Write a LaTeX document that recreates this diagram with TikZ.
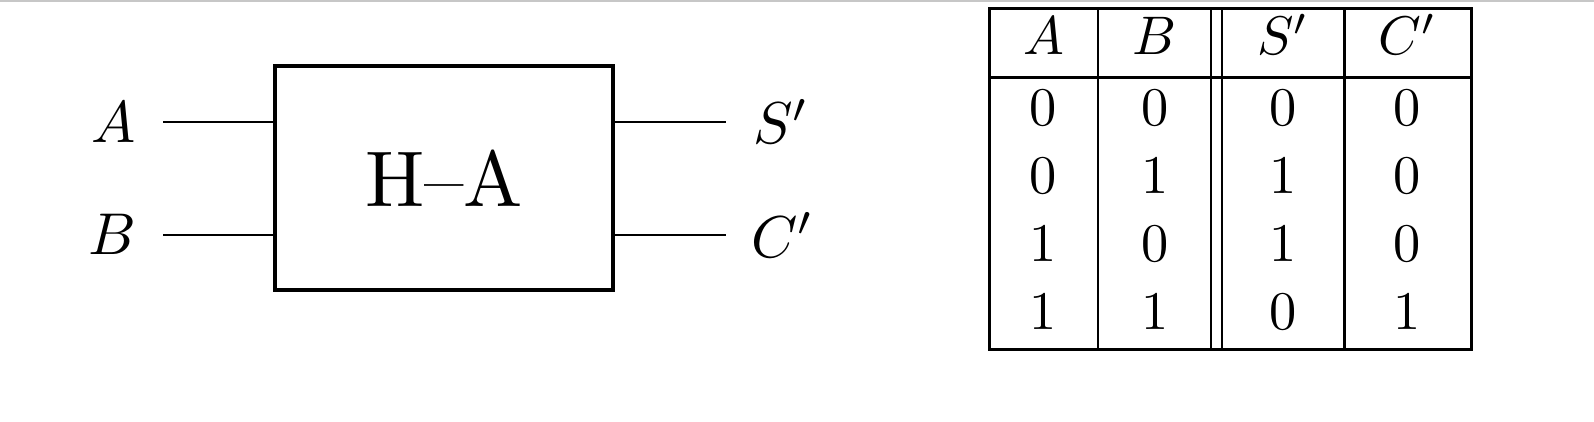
\documentclass[tikz,border=0pt]{standalone}
\usepackage{graphicx}
\newcommand{\lblsc}[1]{\scalebox{2.95}{#1}}
\newcommand{\cellsc}[1]{\scalebox{2.72}{#1}}
\begin{document}
\begin{tikzpicture}[x=0.5pt,y=-0.5pt,
  wire/.style={line width=1pt},
  lbl/.style={inner sep=0pt},
  blk/.style={draw, line width=2pt, minimum width=169pt, minimum height=112pt, inner sep=0pt},
  cell/.style={inner sep=0pt, anchor=base},
  thickrule/.style={line width=1.5pt},
  thinrule/.style={line width=1pt}]
\useasboundingbox (0,0) rectangle (1594,422);
\draw[black!22, line width=1pt] (0,1) -- (1594,1);
% block
\node[blk] (ha) at (444,178) {\scalebox{3.95}{H--A}};
\node[lbl, anchor=base] (la) at (114,143) {\lblsc{$A$}};
\node[lbl, anchor=base] (lb) at (112,255) {\lblsc{$B$}};
\node[lbl, anchor=base west] (ls) at (753,144) {\lblsc{$S'$}};
\node[lbl, anchor=base west] (lc) at (751,257) {\lblsc{$C'$}};
\coordinate (ai) at (163,122);
\coordinate (bi) at (163,235);
\coordinate (so) at (726,122);
\coordinate (co) at (726,235);
\draw[wire] (ai) -- (ai -| ha.west);
\draw[wire] (bi) -- (bi -| ha.west);
\draw[wire] (ha.east |- so) -- (so);
\draw[wire] (ha.east |- co) -- (co);
% table
\draw[thickrule] (989,8.3) rectangle (1471,349);
\draw[thickrule] (989,77.7) -- (1471,77.7);
\draw[thinrule] (1098.3,8.3) -- (1098.3,349);
\draw[thinrule] (1211.3,8.3) -- (1211.3,349);
\draw[thinrule] (1222.3,8.3) -- (1222.3,349);
\draw[thickrule] (1344.3,8.3) -- (1344.3,349);
\node[cell] (h1) at (1043.5,55) {\cellsc{$A$}};
\node[cell] (h2) at (1154.7,55) {\cellsc{$B$}};
\node[cell] (h3) at (1283,55) {\cellsc{$S'$}};
\node[cell] (h4) at (1407.5,55) {\cellsc{$C'$}};
\foreach \r/\y/\a/\b/\s/\c in {1/125.7/0/0/0/0, 2/193.5/0/1/1/0, 3/261.3/1/0/1/0, 4/329/1/1/0/1} {
  \node[cell] (r\r a) at (1043.5,\y) {\cellsc{$\a$}};
  \node[cell] (r\r b) at (1154.7,\y) {\cellsc{$\b$}};
  \node[cell] (r\r s) at (1283,\y) {\cellsc{$\s$}};
  \node[cell] (r\r c) at (1407.5,\y) {\cellsc{$\c$}};
}
\end{tikzpicture}
\end{document}
